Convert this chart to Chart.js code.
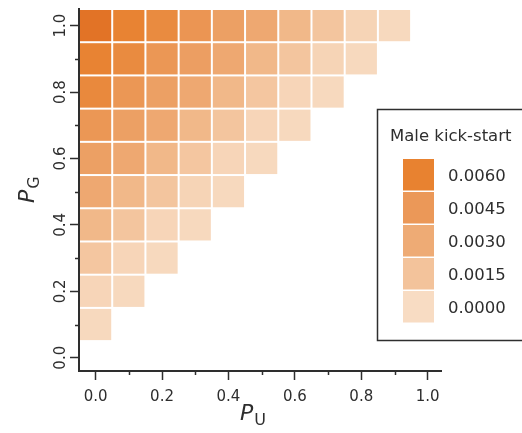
<!DOCTYPE html>
<html>
<head>
<meta charset="utf-8">
<script src="https://cdn.jsdelivr.net/npm/chart.js@4.4.1/dist/chart.umd.min.js"></script>
<style>
  html,body{margin:0;padding:0;background:#fff;}
</style>
</head>
<body>
<canvas id="heat" width="522" height="433"></canvas>
<script>
/* -------------------------- data -------------------------- */
// columns (P_U) and rows (P_G, top row first); a cell exists only where P_U < P_G
const puValues=[0.0,0.1,0.2,0.3,0.4,0.5,0.6,0.7,0.8,0.9];
const pgValues=[1.0,0.9,0.8,0.7,0.6,0.5,0.4,0.3,0.2,0.1];

// male kick-start value per row, left to right
const pg10=[0.0068,0.0059,0.0054,0.0047,0.0039,0.0032,0.0022,0.0014,0.0005,0.0002];
const pg09=[0.0059,0.0054,0.0046,0.0040,0.0032,0.0022,0.0014,0.0005,0.0002];
const pg08=[0.0055,0.0046,0.0039,0.0032,0.0022,0.0013,0.0004,0.0002];
const pg07=[0.0046,0.0039,0.0032,0.0022,0.0014,0.0004,0.0002];
const pg06=[0.0039,0.0032,0.0022,0.0013,0.0004,0.0002];
const pg05=[0.0032,0.0022,0.0014,0.0005,0.0002];
const pg04=[0.0022,0.0014,0.0004,0.0002];
const pg03=[0.0013,0.0004,0.0002];
const pg02=[0.0004,0.0002];
const pg01=[0.0002];
const kickRows=[pg10,pg09,pg08,pg07,pg06,pg05,pg04,pg03,pg02,pg01];

const axisTicks=[0.0,0.1,0.2,0.3,0.4,0.5,0.6,0.7,0.8,0.9,1.0];
const axisTickLabels=['0.0','','0.2','','0.4','','0.6','','0.8','','1.0'];

const legendValues=[0.0060,0.0045,0.0030,0.0015,0.0000];

/* -------------------------- styling -------------------------- */
const AXIS='#2e2e2e';
const FONT='"DejaVu Sans", sans-serif';
const CELL=0.1;
const colorStops=[[0,'#f8dcc3'],[0.0015,'#f3c39b'],[0.0030,'#eeab75'],[0.0045,'#eb9858'],[0.0060,'#e88230'],[0.0070,'#e06f24']];

function hexRgb(h){ return [1,3,5].map(i=>parseInt(h.slice(i,i+2),16)); }
function colorFor(v){
  let i=0;
  while(i<colorStops.length-2 && v>colorStops[i+1][0]) i++;
  const [v0,c0]=colorStops[i], [v1,c1]=colorStops[i+1];
  const t=Math.max(0,Math.min(1,(v-v0)/(v1-v0)));
  const a=hexRgb(c0), b=hexRgb(c1);
  return `rgb(${a.map((c,k)=>Math.round(c+(b[k]-c)*t)).join(',')})`;
}

const cells=[];
kickRows.forEach((row,i)=>row.forEach((v,j)=>cells.push({x:puValues[j],y:pgValues[i],v})));

/* -------------------------- drawing -------------------------- */
const heatPlugin={
  id:'heat',
  beforeDatasetsDraw(chart){
    const {ctx,scales:{x,y}}=chart;
    ctx.save();
    chart.data.datasets[0].data.forEach(p=>{
      const l=x.getPixelForValue(p.x-CELL/2), r=x.getPixelForValue(p.x+CELL/2);
      const t=y.getPixelForValue(p.y+CELL/2), b=y.getPixelForValue(p.y-CELL/2);
      ctx.fillStyle=colorFor(p.v);
      ctx.fillRect(l+1,t+1,r-l-2,b-t-2);
    });
    ctx.restore();
  },
  afterDraw(chart){
    const {ctx,scales:{x,y}}=chart;
    ctx.save();
    // minor ticks
    ctx.strokeStyle=AXIS; ctx.lineWidth=1.5;
    axisTicks.forEach((v,i)=>{
      if(!(i%2)) return;
      const px=Math.round(x.getPixelForValue(v))+0.5, py=Math.round(y.getPixelForValue(v))+0.5;
      ctx.beginPath(); ctx.moveTo(px,x.top); ctx.lineTo(px,x.top+4); ctx.stroke();
      ctx.beginPath(); ctx.moveTo(y.right,py); ctx.lineTo(y.right-4,py); ctx.stroke();
    });
    // rotated y tick labels
    ctx.fillStyle=AXIS; ctx.font=`15px ${FONT}`;
    ctx.textAlign='center'; ctx.textBaseline='alphabetic';
    axisTicks.forEach((v,i)=>{
      if(!axisTickLabels[i]) return;
      ctx.save();
      ctx.translate(64.5,y.getPixelForValue(v));
      ctx.rotate(-Math.PI/2);
      ctx.fillText(axisTickLabels[i],0,0);
      ctx.restore();
    });
    // axis titles
    ctx.textAlign='left';
    const title=(main,sub)=>{
      ctx.font=`italic 22px ${FONT}`;
      ctx.fillText(main,0,0);
      const w=ctx.measureText(main).width;
      ctx.font=`16px ${FONT}`;
      ctx.fillText(sub,w+1,5);
    };
    ctx.save(); ctx.translate(240,420); title('P','U'); ctx.restore();
    ctx.save(); ctx.translate(34,203); ctx.rotate(-Math.PI/2); title('P','G'); ctx.restore();
    // colour legend
    ctx.fillStyle='#fff'; ctx.fillRect(377,109,300,232);
    ctx.strokeStyle=AXIS; ctx.lineWidth=1.5;
    ctx.strokeRect(377.5,109.5,300,231);
    ctx.fillStyle=AXIS; ctx.font=`16.5px ${FONT}`;
    ctx.fillText('Male kick-start',390,140.5);
    legendValues.forEach((v,i)=>{
      const top=159+i*33;
      ctx.fillStyle=colorFor(v);
      ctx.fillRect(403,top,31,31.5);
      ctx.fillStyle=AXIS;
      ctx.fillText(v.toFixed(4),448,top+22);
    });
    ctx.restore();
  }
};

function axisOpts(extra){
  return Object.assign({
    type:'linear', z:1,
    afterBuildTicks:s=>{ s.ticks=axisTicks.map(v=>({value:v})); },
    border:{display:true,color:AXIS,width:2},
    grid:{display:true,drawOnChartArea:false,drawTicks:true,tickLength:9,tickWidth:1.5,
          tickColor:c=>c.index%2?'rgba(0,0,0,0)':AXIS}
  },extra);
}

new Chart(document.getElementById('heat'),{
  type:'scatter',
  data:{datasets:[{data:cells,pointRadius:0,pointHoverRadius:0}]},
  options:{
    responsive:false, animation:false, events:[],
    layout:{padding:{left:0,top:9,right:81,bottom:0}},
    plugins:{legend:{display:false},tooltip:{enabled:false}},
    scales:{
      x:axisOpts({min:-0.05,max:1.04,afterFit:s=>{s.height=62;},
        ticks:{autoSkip:false,maxRotation:0,minRotation:0,padding:8,color:AXIS,
               font:{family:FONT,size:15},callback:(v,i)=>axisTickLabels[i]}}),
      y:axisOpts({min:-0.04,max:1.05,afterFit:s=>{s.width=79;},ticks:{display:false}})
    }
  },
  plugins:[heatPlugin]
});
</script>
</body>
</html>
